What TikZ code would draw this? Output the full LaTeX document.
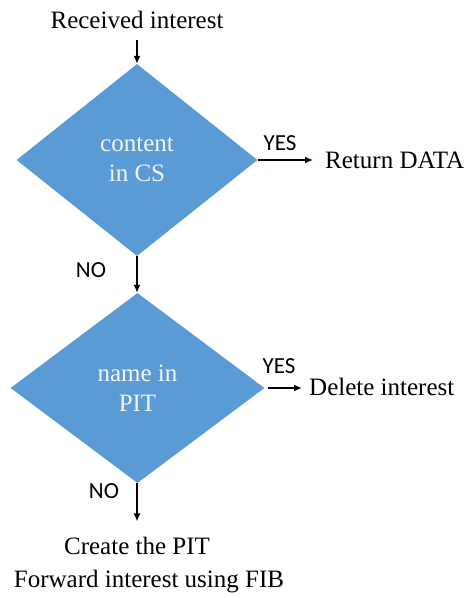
\documentclass[tikz,border=0pt]{standalone}
\usepackage{fontspec}
\setmainfont{Liberation Serif}
\newfontfamily\lblfont{Carlito}
\usetikzlibrary{shapes.geometric,arrows.meta}
\definecolor{decblue}{HTML}{5B9BD5}
\definecolor{dectext}{HTML}{F4F4F4}
\begin{document}
\begin{tikzpicture}[x=1pt,y=-1pt,
  txt/.style={inner sep=0pt,font=\fontsize{25}{30}\selectfont},
  lbl/.style={inner sep=0pt,font=\lblfont\fontsize{23}{27}\selectfont},
  decision/.style={shape=diamond,fill=decblue,inner sep=0pt,align=center,
    text=dectext,font=\fontsize{25}{30}\selectfont},
  arr/.style={line width=1.5pt,-{Latex[length=8pt,width=7pt]}}]
\useasboundingbox (0,0) rectangle (471,598);
% decisions
\node[decision,minimum width=241pt,minimum height=192pt] (cs) at (137,160) {content\\in CS};
\node[decision,minimum width=254pt,minimum height=190pt] (pit) at (137.5,388) {name in\\PIT};
% texts
\node[txt,anchor=base] (recv) at (137,28) {Received interest};
\node[txt,anchor=base west] (ret) at (325,168) {Return DATA};
\node[txt,anchor=base west] (del) at (309,395) {Delete interest};
\node[txt,anchor=base] (create) at (137,554) {Create the PIT};
\node[txt,anchor=base] (fwd) at (149,587) {Forward interest using FIB};
% branch labels
\node[lbl,anchor=base] (yes1) at (280,150) {YES};
\node[lbl,anchor=base] (no1) at (91,277) {NO};
\node[lbl,anchor=base] (yes2) at (279,373) {YES};
\node[lbl,anchor=base] (no2) at (104,498) {NO};
% connectors
\draw[arr,shorten <=12pt] (recv.south) -- (cs.north);
\draw[arr,shorten >=12pt] (cs.east) -- (cs.east -| ret.west);
\draw[arr] (cs.south) -- (cs.south |- pit.north);
\draw[arr,shorten <=3pt,shorten >=7pt] (pit.east) -- (pit.east -| del.west);
\draw[arr,shorten >=15pt] (pit.south -| create.north) -- (create.north);
\end{tikzpicture}
\end{document}
